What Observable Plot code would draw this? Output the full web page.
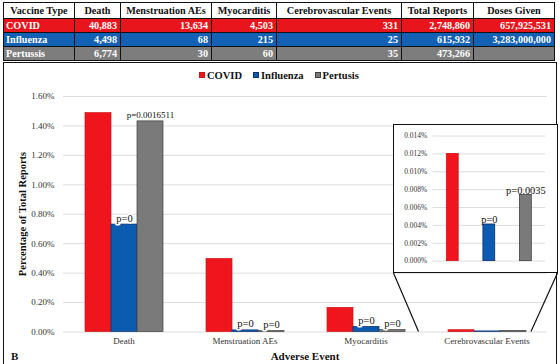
<!DOCTYPE html>
<html>
<head>
<meta charset="utf-8">
<script src="https://cdn.jsdelivr.net/npm/d3@7"></script>
<script src="https://cdn.jsdelivr.net/npm/@observablehq/plot@0.6"></script>
<style>
  html, body { margin: 0; padding: 0; background: #fff; }
  #root { position: relative; width: 560px; height: 364px; overflow: hidden; background: #fff; font-family: "Liberation Serif", serif; }
  table.t { position: absolute; left: 3px; top: 2px; width: 551px; border-collapse: collapse; table-layout: fixed; font-weight: bold; font-size: 10.2px; }
  table.t td, table.t th { border: 1px solid #111; padding: 0 3px; white-space: nowrap; overflow: hidden; line-height: 13px; }
  table.t th { background: #fff; color: #111; height: 15px; text-align: center; }
  table.t td { color: #fff; text-align: right; height: 13px; }
  table.t td:first-child { text-align: left; padding-left: 2px; }
  #box { position: absolute; left: 3px; top: 62px; width: 554px; height: 320px; border: 1.5px solid #111; box-sizing: border-box; }
  #legend { position: absolute; left: 199px; top: 70px; display: flex; gap: 11px; font-weight: bold; font-size: 10.5px; color: #111; }
  #legend span.sw { display: inline-block; width: 6px; height: 6px; margin-right: 2px; vertical-align: 1px; box-sizing: border-box; }
  #main { position: absolute; left: 0; top: 63px; }
  #inset { position: absolute; left: 393px; top: 124px; width: 165px; height: 149px; background: #fff; border: 1.5px solid #111; box-sizing: border-box; }
  #inset svg { position: absolute; left: -1.5px; top: -1.5px; }
  #overlay { position: absolute; left: 0; top: 0; pointer-events: none; }
  .ttl { position: absolute; font-weight: bold; color: #111; white-space: nowrap; }
</style>
</head>
<body>
<div id="root"></div>
<script>
// ---------- data ----------
const tableHeaders = ["Vaccine Type", "Death", "Menstruation AEs", "Myocarditis", "Cerebrovascular Events", "Total Reports", "Doses Given"];
const tableVaccines = ["COVID", "Influenza", "Pertussis"];
const tableCovid = ["40,883", "13,634", "4,503", "331", "2,748,860", "657,925,531"];
const tableInfluenza = ["4,498", "68", "215", "25", "615,932", "3,283,000,000"];
const tablePertussis = ["6,774", "30", "60", "35", "473,266", ""];

const events = ["Death", "Menstruation AEs", "Myocarditis", "Cerebrovascular Events"];
const vaccines = ["COVID", "Influenza", "Pertussis"];
const legendNames = ["COVID", "Influenza", "Pertusis"];
const covidPct = [1.487, 0.496, 0.164, 0.0120];
const influenzaPct = [0.730, 0.011, 0.035, 0.0041];
const pertussisPct = [1.431, 0.0063, 0.0127, 0.0074];
const influenzaP = ["p=0", "p=0", "p=0", "p=0"];
const pertussisP = ["p=0.0016511", "p=0", "p=0", "p=0.0035"];

const yTicks = [0, 0.2, 0.4, 0.6, 0.8, 1.0, 1.2, 1.4, 1.6];
const insetTicks = [0, 0.002, 0.004, 0.006, 0.008, 0.010, 0.012, 0.014];

const colors = ["#f0141c", "#0b5cb0", "#7a7a7a"];
const strokes = ["#d0141b", "#0a2f6e", "#3f3f3f"];
const rowBg = ["#e8151d", "#1261b5", "#7d7d7d"];
const gridColor = "#dcdcdc";

// ---------- build ----------
const root = document.getElementById("root");

// table
const table = document.createElement("table");
table.className = "t";
const widths = [71, 46, 91, 65, 125, 72, 81];
const cg = document.createElement("colgroup");
widths.forEach(w => { const c = document.createElement("col"); c.style.width = w + "px"; cg.appendChild(c); });
table.appendChild(cg);
const hr = document.createElement("tr");
tableHeaders.forEach(h => { const th = document.createElement("th"); th.textContent = h; hr.appendChild(th); });
table.appendChild(hr);
[tableCovid, tableInfluenza, tablePertussis].forEach((row, i) => {
  const tr = document.createElement("tr");
  tr.style.background = rowBg[i];
  const td0 = document.createElement("td"); td0.textContent = tableVaccines[i]; tr.appendChild(td0);
  row.forEach(v => { const td = document.createElement("td"); td.textContent = v; tr.appendChild(td); });
  table.appendChild(tr);
});
root.appendChild(table);

// chart box
const box = document.createElement("div"); box.id = "box"; root.appendChild(box);

// legend
const legend = document.createElement("div"); legend.id = "legend";
legendNames.forEach((n, i) => {
  const it = document.createElement("div");
  const sw = document.createElement("span"); sw.className = "sw";
  sw.style.background = colors[i]; sw.style.border = "1px solid " + strokes[i];
  it.appendChild(sw);
  it.appendChild(document.createTextNode(n));
  legend.appendChild(it);
});
root.appendChild(legend);

// rows
const series = [covidPct, influenzaPct, pertussisPct];
const pl = [events.map(() => ""), influenzaP, pertussisP];
const rows = [];
events.forEach((e, i) => vaccines.forEach((v, j) => rows.push({event: e, vaccine: v, value: series[j][i], p: i < 3 ? pl[j][i] : ""})));
const insetRows = vaccines.map((v, j) => ({vaccine: v, value: series[j][3], p: pl[j][3]}));

const W = 560, H = 301, mT = 33, mB = 32.5, mL = 62, mR = 12;
const main = Plot.plot({
  width: W, height: H,
  marginTop: mT, marginBottom: mB, marginLeft: mL, marginRight: mR,
  style: {fontFamily: "Liberation Serif, serif", fontSize: "9px", color: "#333", background: "transparent", overflow: "visible"},
  facet: {data: rows, x: "event"},
  fx: {domain: events, padding: 0, axis: "bottom", label: null, tickSize: 0, tickPadding: 6},
  x: {domain: vaccines, paddingInner: 0, paddingOuter: 0.755, axis: null},
  y: {domain: [0, 1.6], ticks: yTicks, tickFormat: d => d.toFixed(2) + "%", grid: false, tickSize: 0, tickPadding: 9, label: null},
  color: {domain: vaccines, range: colors},
  marks: [
    Plot.ruleY(yTicks, {stroke: gridColor, strokeWidth: 1}),
    Plot.barY(rows, {x: "vaccine", y: "value", fill: "vaccine", stroke: d => strokes[vaccines.indexOf(d.vaccine)], strokeWidth: 0.7}),
    Plot.text(rows, {x: "vaccine", y: "value", text: "p", lineAnchor: "bottom", dy: -3,
      fontSize: d => d.p.length > 5 ? 9 : 10.5, fill: "#111", stroke: "white", strokeWidth: 3})
  ]
});
main.id = "main";
root.appendChild(main);

// inset
const insetDiv = document.createElement("div"); insetDiv.id = "inset";
const inset = Plot.plot({
  width: 165, height: 149,
  marginTop: 11.7, marginBottom: 10.7, marginLeft: 40, marginRight: 11,
  style: {fontFamily: "Liberation Serif, serif", fontSize: "7.5px", color: "#333", background: "transparent"},
  x: {domain: vaccines, paddingInner: 0.676, paddingOuter: 0.378, axis: null},
  y: {domain: [0, 0.014], ticks: insetTicks, tickFormat: d => d.toFixed(3) + "%", grid: false, tickSize: 0, tickPadding: 6, label: null},
  color: {domain: vaccines, range: colors},
  marks: [
    Plot.ruleY(insetTicks, {stroke: gridColor, strokeWidth: 1}),
    Plot.barY(insetRows, {x: "vaccine", y: "value", fill: "vaccine", stroke: d => strokes[vaccines.indexOf(d.vaccine)], strokeWidth: 0.8}),
    Plot.text(insetRows, {x: "vaccine", y: "value", text: "p", lineAnchor: "bottom", dy: -1.5, fontSize: 10.5, fill: "#111"})
  ]
});
insetDiv.appendChild(inset);
root.appendChild(insetDiv);

// zoom lines (from inset corners to the Cerebrovascular group on the main baseline)
const fxScale = d3.scaleBand(events, [mL, W - mR]).padding(0);
const yScale = d3.scaleLinear([0, 1.6], [63 + H - mB, 63 + mT]);
const gx0 = fxScale("Cerebrovascular Events");
const base = yScale(0);
const ov = d3.select(root).append("svg").attr("id", "overlay").attr("width", 560).attr("height", 364);
ov.append("line").attr("x1", 393.5).attr("y1", 273).attr("x2", gx0 - 8).attr("y2", base).attr("stroke", "#111").attr("stroke-width", 1.2);
ov.append("line").attr("x1", 557.5).attr("y1", 273).attr("x2", gx0 + fxScale.bandwidth() - 17).attr("y2", base).attr("stroke", "#111").attr("stroke-width", 1.2);

// titles
const yt = document.createElement("div"); yt.className = "ttl"; yt.textContent = "Percentage of Total Reports";
yt.style.cssText += "left:22px;top:214px;font-size:10.5px;transform:translate(-50%,-50%) rotate(-90deg);";
root.appendChild(yt);
const xt = document.createElement("div"); xt.className = "ttl"; xt.textContent = "Adverse Event";
xt.style.cssText += "left:305px;top:356px;font-size:11px;transform:translate(-50%,-50%);";
root.appendChild(xt);
const bl = document.createElement("div"); bl.className = "ttl"; bl.textContent = "B";
bl.style.cssText += "left:11px;top:350px;font-size:11px;line-height:12px;";
root.appendChild(bl);
</script>
</body>
</html>
